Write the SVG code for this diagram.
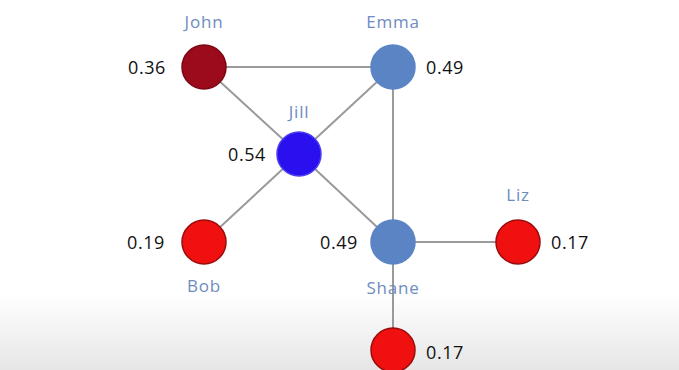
<svg xmlns="http://www.w3.org/2000/svg" width="679" height="370" viewBox="0 0 679 370">
<defs>
<linearGradient id="bg" x1="0" y1="0" x2="0" y2="1">
<stop offset="0" stop-color="#ffffff"/>
<stop offset="1" stop-color="#e6e6e6"/>
</linearGradient>
<style>
.edge{stroke:#9a9a9a;stroke-width:2;fill:none}
.name{font-family:"Open Sans","Liberation Sans",sans-serif;font-size:17px;letter-spacing:0.8px;fill:#6e8cc0}
.val{font-family:"Open Sans","Liberation Sans",sans-serif;font-size:18px;letter-spacing:0.6px;fill:#111}
.red{fill:#f01010;stroke:#9a0c0c;stroke-width:1.5}
.blue{fill:#5b84c4;stroke:#5b84c4;stroke-width:1.5}
</style>
</defs>
<rect width="679" height="370" fill="#ffffff"/>
<rect x="0" y="295" width="679" height="75" fill="url(#bg)"/>
<g id="connectors">
<line class="edge" x1="204" y1="67" x2="393" y2="67"/>
<line class="edge" x1="204" y1="67" x2="299" y2="154"/>
<line class="edge" x1="393" y1="67" x2="299" y2="154"/>
<line class="edge" x1="393" y1="67" x2="393" y2="242"/>
<line class="edge" x1="299" y1="154" x2="204" y2="242"/>
<line class="edge" x1="299" y1="154" x2="393" y2="242"/>
<line class="edge" x1="393" y1="242" x2="518" y2="242"/>
<line class="edge" x1="393" y1="242" x2="393" y2="350"/>
</g>
<g id="john">
<circle cx="204" cy="67" r="22" fill="#9c0b1c" stroke="#7a0812" stroke-width="1.5"/>
<text class="name" x="204" y="28" text-anchor="middle">John</text>
<text class="val" x="166" y="74" text-anchor="end">0.36</text>
</g>
<g id="emma">
<circle class="blue" cx="393" cy="67" r="22"/>
<text class="name" x="393" y="28" text-anchor="middle">Emma</text>
<text class="val" x="426" y="74">0.49</text>
</g>
<g id="jill">
<circle cx="299" cy="154" r="22" fill="#2a10ee" stroke="#4a3cf0" stroke-width="1.5"/>
<text class="name" x="299" y="118" text-anchor="middle">Jill</text>
<text class="val" x="266" y="161" text-anchor="end">0.54</text>
</g>
<g id="bob">
<circle class="red" cx="204" cy="242" r="22"/>
<text class="name" x="204" y="292" text-anchor="middle">Bob</text>
<text class="val" x="165" y="249" text-anchor="end">0.19</text>
</g>
<g id="shane">
<circle class="blue" cx="393" cy="242" r="22"/>
<text class="name" x="393" y="294" text-anchor="middle">Shane</text>
<text class="val" x="358" y="249" text-anchor="end">0.49</text>
</g>
<g id="liz">
<circle class="red" cx="518" cy="242" r="22"/>
<text class="name" x="518" y="201" text-anchor="middle">Liz</text>
<text class="val" x="551" y="249">0.17</text>
</g>
<g id="bottom">
<circle class="red" cx="393" cy="350" r="22"/>
<text class="val" x="426" y="359">0.17</text>
</g>
</svg>
